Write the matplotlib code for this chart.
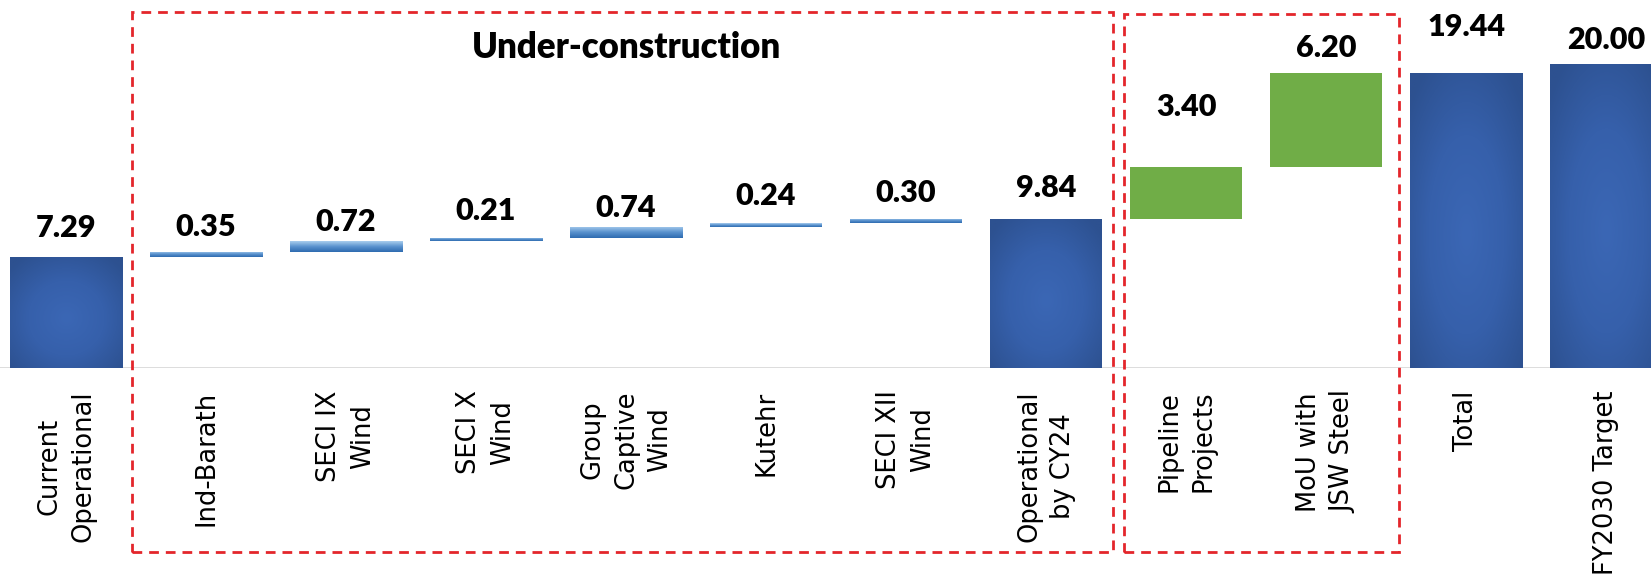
import numpy as np
import matplotlib
matplotlib.use("Agg")
import matplotlib.pyplot as plt
from matplotlib.colors import LinearSegmentedColormap
from matplotlib.patches import Rectangle
import matplotlib.transforms as mtransforms

categories = ["Current\nOperational", "Ind-Barath", "SECI IX\nWind", "SECI X\nWind",
              "Group\nCaptive\nWind", "Kutehr", "SECI XII\nWind", "Operational\nby CY24",
              "Pipeline\nProjects", "MoU with\nJSW Steel", "Total", "FY2030 Target"]
values = [7.29, 0.35, 0.72, 0.21, 0.74, 0.24, 0.30, 9.84, 3.40, 6.20, 19.44, 20.00]
# total = bar from zero, step = under-construction increment, pipeline = green increment
kinds = ["total", "step", "step", "step", "step", "step", "step", "total",
         "pipeline", "pipeline", "total", "total"]

# label offset above bar top, in pixels (as placed in the original)
label_pad = [29, 25, 19, 27, 19, 27, 26, 31, 60, 25, 46, 24]

# waterfall bottoms
bottoms = []
running = 0
for v, k in zip(values, kinds):
    if k == "total":
        bottoms.append(0)
        running = v
    else:
        bottoms.append(running)
        running += v

W, H = 1651, 577
fig = plt.figure(figsize=(W / 100, H / 100), dpi=100)
base_px = 368.3
ax = fig.add_axes([0, (H - base_px) / H, 1, base_px / H])
px_per_unit = 15.2

x = np.arange(len(values))
bars = ax.bar(x, values, bottom=bottoms, width=0.8, color="none", edgecolor="none")

radial = LinearSegmentedColormap.from_list("rad", ["#3b67b5", "#3660ab", "#2d5190"])
linear = LinearSegmentedColormap.from_list("lin", ["#2e6bb0", "#5a92ce", "#a9cdee"])

yy, xx = np.mgrid[-1:1:200j, -1:1:200j]
rdist = np.clip(np.sqrt(xx ** 2 + (yy + 0.1) ** 2) / 1.35, 0, 1)
vgrad = np.linspace(0, 1, 50).reshape(-1, 1)

for b, k in zip(bars, kinds):
    x0, y0 = b.get_x(), b.get_y()
    w, h = b.get_width(), b.get_height()
    ext = [x0, x0 + w, y0, y0 + h]
    if k == "total":
        im = ax.imshow(rdist, cmap=radial, extent=ext, aspect="auto", origin="lower",
                       interpolation="bilinear", zorder=2)
        im.set_clip_path(b)
    elif k == "step":
        im = ax.imshow(vgrad, cmap=linear, extent=ext, aspect="auto", origin="lower",
                       interpolation="bilinear", zorder=2)
        im.set_clip_path(b)
    else:
        b.set_facecolor("#70ad47")

for xi, v, bt, pad in zip(x, values, bottoms, label_pad):
    ax.annotate(f"{v:.2f}", (xi, bt + v), xytext=(0, pad), textcoords="offset pixels",
                ha="center", va="center", fontsize=22, fontweight="heavy",
                family="Lato", color="black")

ax.axhline(0, color="#d9d9d9", lw=2, zorder=1)

ax.set_xlim(-66 / 140, (W - 66) / 140)
ax.set_ylim(0, base_px / px_per_unit)
for s in ax.spines.values():
    s.set_visible(False)
ax.set_yticks([])
ax.set_xticks(x)
ax.set_xticklabels(categories, rotation=90, fontsize=18.5, family="DejaVu Sans",
                   linespacing=1.4, multialignment="center")
ax.tick_params(axis="x", length=0, pad=16)

# dashed group boxes (x in data coords, y in axes fraction)
trans = mtransforms.blended_transform_factory(ax.transData, ax.transAxes)
box_style = dict(fill=False, edgecolor="#e3262b", lw=2, linestyle=(0, (3.5, 2.5)),
                 transform=trans, clip_on=False, zorder=5)
y_bot = (base_px - 551.7) / base_px
ax.add_patch(Rectangle((0.468, y_bot), 7.48 - 0.468, (base_px - 12.3) / base_px - y_bot, **box_style))
ax.add_patch(Rectangle((7.56, y_bot), 9.52 - 7.56, (base_px - 14) / base_px - y_bot, **box_style))

ax.text(4.0, (base_px - 48) / base_px, "Under-construction", transform=trans,
        ha="center", va="center", fontsize=25, fontweight="heavy", family="Lato")

fig.savefig("out.png", dpi=100)
